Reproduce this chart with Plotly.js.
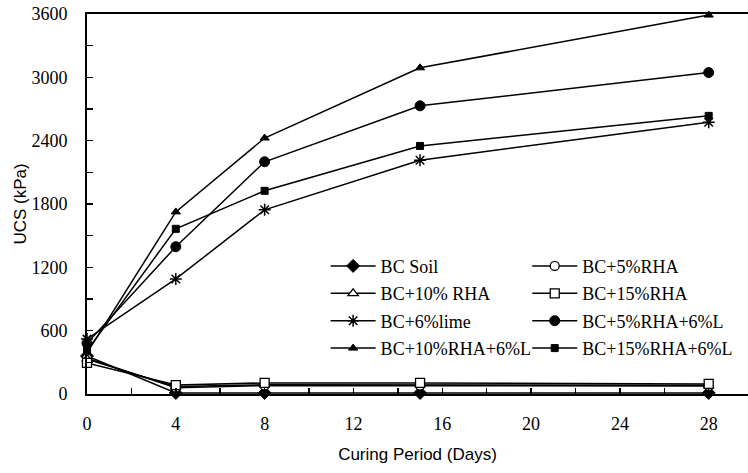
<!DOCTYPE html>
<html>
<head>
<meta charset="utf-8">
<script src="https://cdn.plot.ly/plotly-3.0.1.min.js"></script>
<style>html,body{margin:0;padding:0;background:#fff;}#chart{width:748px;height:473px;}</style>
</head>
<body>
<div id="chart"></div>
<script>
var days = [0, 4, 8, 15, 28];
var seriesNames = ["BC Soil", "BC+5%RHA", "BC+10% RHA", "BC+15%RHA", "BC+6%lime", "BC+5%RHA+6%L", "BC+10%RHA+6%L", "BC+15%RHA+6%L"];
var bcSoil = [360, 10, 10, 10, 10];
var bc5RHA = [340, 60, 80, 80, 75];
var bc10RHA = [330, 70, 88, 88, 82];
var bc15RHA = [295, 85, 105, 105, 95];
var bc6Lime = [520, 1090, 1745, 2215, 2575];
var bc5RHA6L = [480, 1395, 2200, 2730, 3045];
var bc10RHA6L = [390, 1725, 2425, 3090, 3590];
var bc15RHA6L = [410, 1565, 1925, 2350, 2635];
var xTicks = [0, 4, 8, 12, 16, 20, 24, 28];
var yTicks = [0, 600, 1200, 1800, 2400, 3000, 3600];

var styles = [
  {sym: "diamond", size: 10, color: "#000", lw: 1, legend: "legend"},
  {sym: "circle", size: 9, color: "#fff", lw: 1.3, legend: "legend2"},
  {sym: "triangle-up", size: 9, color: "#fff", lw: 1.3, legend: "legend"},
  {sym: "square", size: 9, color: "#fff", lw: 1.3, legend: "legend2"},
  {sym: "asterisk-open", size: 10, color: "#000", lw: 1.5, legend: "legend"},
  {sym: "circle", size: 10, color: "#000", lw: 1, legend: "legend2"},
  {sym: "triangle-up", size: 8, color: "#000", lw: 1, legend: "legend"},
  {sym: "square", size: 7, color: "#000", lw: 1, legend: "legend2"}
];
var values = [bcSoil, bc5RHA, bc10RHA, bc15RHA, bc6Lime, bc5RHA6L, bc10RHA6L, bc15RHA6L];

var traces = values.map(function(v, i) {
  var s = styles[i];
  return {
    x: days, y: v, name: seriesNames[i], type: "scatter", mode: "lines+markers",
    legend: s.legend, legendgroup: "g" + i,
    line: {color: "#000", width: 1.5},
    marker: {symbol: s.sym, size: s.size, color: s.color, line: {color: "#000", width: s.lw}},
    cliponaxis: false
  };
});

var tickFont = {family: "Liberation Serif, Times New Roman, serif", size: 18, color: "#000"};
var legendBase = {
  font: {family: "Liberation Serif, Times New Roman, serif", size: 18, color: "#000"},
  bgcolor: "rgba(0,0,0,0)", borderwidth: 0, orientation: "v",
  xanchor: "left", yanchor: "top", y: 0.385, tracegroupgap: 1,
  itemsizing: "trace", itemwidth: 45
};
var leg1 = Object.assign({}, legendBase, {x: 0.361});
var leg2 = Object.assign({}, legendBase, {x: 0.666});

var layout = {
  width: 748, height: 473,
  margin: {l: 87, r: 0, t: 14, b: 79},
  paper_bgcolor: "#fff", plot_bgcolor: "#fff",
  showlegend: true,
  legend: leg1, legend2: leg2,
  xaxis: {
    range: [0, 29.77], tickvals: xTicks, ticktext: xTicks.map(String),
    showgrid: false, zeroline: false, showline: true, linecolor: "#000", linewidth: 2,
    mirror: true, ticks: "inside", ticklen: 6, tickwidth: 1.5, tickcolor: "#000",
    minor: {dtick: 2, tick0: 0, ticks: "inside", ticklen: 6, tickwidth: 1.5, tickcolor: "#000", showgrid: false},
    tickfont: tickFont, ticklabelstandoff: 12,
    title: {text: "Curing Period (Days)", font: {family: "Liberation Sans, Arial, sans-serif", size: 17, color: "#000"}, standoff: 16}
  },
  yaxis: {
    range: [0, 3600], tickvals: yTicks, ticktext: yTicks.map(String),
    showgrid: false, zeroline: false, showline: true, linecolor: "#000", linewidth: 2,
    mirror: false, ticks: "inside", ticklen: 6, tickwidth: 1.5, tickcolor: "#000",
    minor: {dtick: 300, tick0: 0, ticks: "inside", ticklen: 6, tickwidth: 1.5, tickcolor: "#000", showgrid: false},
    tickfont: tickFont, ticklabelstandoff: 14,
    title: {text: "UCS (kPa)", font: {family: "Liberation Sans, Arial, sans-serif", size: 17, color: "#000"}, standoff: 0}
  }
};

Plotly.newPlot("chart", traces, layout, {displayModeBar: false, staticPlot: true});
</script>
</body>
</html>
